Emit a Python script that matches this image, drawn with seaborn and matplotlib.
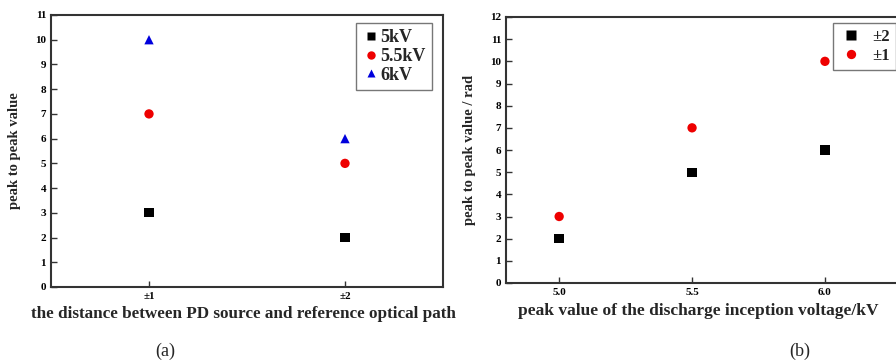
import pandas as pd
import seaborn as sns
import matplotlib.pyplot as plt

# data
dist_labels = ["±1", "±2"]
pp_5kv = [3, 2]
pp_55kv = [7, 5]
pp_6kv = [10, 6]

voltages = [5.0, 5.5, 6.0]
pp_pm2 = [2, 5, 6]
pp_pm1 = [3, 7, 10]

sns.set_theme(style="white")
plt.rcParams['font.family'] = ['Liberation Serif', 'DejaVu Serif']
plt.rcParams['font.weight'] = 'bold'

left = pd.DataFrame({
    "dist": dist_labels * 3,
    "pp": pp_5kv + pp_55kv + pp_6kv,
    "volt": ["5kV"] * 2 + ["5.5kV"] * 2 + ["6kV"] * 2,
})
right = pd.DataFrame({
    "v": voltages * 2,
    "pp": pp_pm2 + pp_pm1,
    "d": ["±2"] * 3 + ["±1"] * 3,
})

fig = plt.figure(figsize=(8.96, 3.63), dpi=100)
W, H = 896, 363
ax1 = fig.add_axes([51 / W, 1 - 287 / H, (443 - 51) / W, (287 - 15) / H])
ax2 = fig.add_axes([506 / W, 1 - 283 / H, (910 - 506) / W, (283 - 17) / H])

sns.scatterplot(data=left, x="dist", y="pp", hue="volt", style="volt",
                palette={"5kV": "black", "5.5kV": "#ee0000", "6kV": "#0000dd"},
                markers={"5kV": "s", "5.5kV": "o", "6kV": "^"},
                s=45, edgecolor="none", ax=ax1)
ax1.set_xlim(-0.5, 1.5)
ax1.set_ylim(0, 11)
ax1.set_yticks(range(0, 12))

sns.scatterplot(data=right, x="v", y="pp", hue="d", style="d",
                palette={"±2": "black", "±1": "#ee0000"},
                markers={"±2": "s", "±1": "o"},
                s=45, edgecolor="none", ax=ax2)
ax2.set_xlim(4.8, 6.32)
ax2.set_ylim(0, 12)
ax2.set_xticks(voltages)
ax2.set_xticklabels(["5.0", "5.5", "6.0"])
ax2.set_yticks(range(0, 13))

for ax in (ax1, ax2):
    for sp in ax.spines.values():
        sp.set_color("#333333")
        sp.set_linewidth(1.5)
    ax.tick_params(direction="in", length=4, width=1, colors="#333333",
                   labelsize=8, labelcolor="black", bottom=True, left=True)
    for lab in ax.get_xticklabels() + ax.get_yticklabels():
        lab.set_fontweight("bold")

ax1.set_xlabel("the distance between PD source and reference optical path",
               fontsize=12.3, fontweight="bold", labelpad=4)
ax1.xaxis.set_label_coords((243 - 51) / (443 - 51), -0.07)
ax1.set_ylabel("peak to peak value", fontsize=10.5, fontweight="bold", labelpad=10)
ax2.set_xlabel("peak value of the discharge inception voltage/kV",
               fontsize=12.5, fontweight="bold", labelpad=4)
ax2.xaxis.set_label_coords((698 - 506) / (910 - 506), -0.075)
ax2.set_ylabel("peak to peak value / rad", fontsize=10.5, fontweight="bold", labelpad=10)

leg1 = ax1.legend(title=None, loc="upper right", bbox_to_anchor=(0.972, 0.971),
                  borderaxespad=0, fontsize=13, frameon=True, fancybox=False,
                  handletextpad=0.0, handlelength=1.0, borderpad=0.35,
                  labelspacing=0.1, markerscale=0.9)
leg1.get_frame().set_edgecolor("#555555")
leg1.get_frame().set_linewidth(1)
for t in leg1.get_texts():
    t.set_fontweight("bold")

leg2 = ax2.legend(title=None, loc="upper left",
                  bbox_to_anchor=((833 - 506) / (910 - 506), 1 - (23 - 17) / 266),
                  borderaxespad=0, fontsize=12, frameon=True, fancybox=False,
                  handletextpad=0.5, handlelength=1.5, borderpad=0.35,
                  labelspacing=0.2)
leg2.get_frame().set_edgecolor("#555555")
leg2.get_frame().set_linewidth(1)
for t in leg2.get_texts():
    t.set_fontweight("bold")
    t.set_color("#222222")

fig.text(165 / W, 1 - 351 / H, "(a)", fontsize=13, fontweight="normal",
         ha="center", va="center")
fig.text(800 / W, 1 - 351 / H, "(b)", fontsize=13, fontweight="normal",
         ha="center", va="center")

fig.savefig("out.png", dpi=100)
